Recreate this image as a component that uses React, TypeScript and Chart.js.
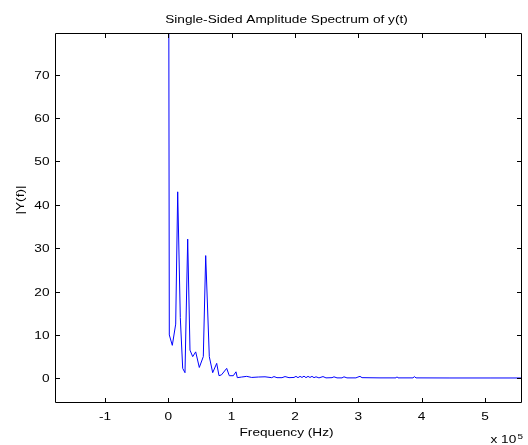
import React, { useEffect, useRef } from "react";
import { Chart, registerables } from "chart.js";

Chart.register(...registerables);

// Frequency (Hz) and single-sided amplitude |Y(f)|
const freqHz = [
  0, 1580, 6320, 11690, 14840, 18950, 22740, 26370, 30630, 34260, 38530, 43270,
  48950, 55270, 59060, 64740, 70110, 76420, 80060, 84000, 92210, 96320, 102640,
  106900, 108950, 115900, 123800, 131700, 142100, 152700, 163300, 166900, 171600,
  179500, 184300, 190600, 198500, 201600, 204800, 208000, 211100, 214300, 217400,
  220600, 223700, 226900, 230100, 233200, 237900, 244300, 249000, 258500, 261600,
  266400, 274300, 277400, 282100, 296300, 299500, 302700, 305900, 334300, 359500,
  361100, 362700, 386400, 388500, 391100, 444800, 508000, 558500,
];
const amplitude = [
  160, 10, 7.6, 12.5, 43.0, 14, 2.3, 1.3, 32.1, 6.5, 5.0, 6.1,
  2.5, 5.0, 28.3, 5.0, 1.3, 3.45, 0.6, 0.8, 2.3, 0.6, 0.6,
  1.5, 0.15, 0.3, 0.45, 0.2, 0.3, 0.35, 0.15, 0.4, 0.15,
  0.15, 0.4, 0.15, 0.2, 0.45, 0.15, 0.45, 0.2, 0.5, 0.15,
  0.45, 0.2, 0.45, 0.15, 0.35, 0.1, 0.4, 0.1, 0.15, 0.35,
  0.1, 0.1, 0.35, 0.1, 0.1, 0.3, 0.45, 0.15, 0.1, 0.1,
  0.35, 0.1, 0.1, 0.4, 0.1, 0.08, 0.08, 0.08,
];

const xTickValues = [-1e5, 0, 1e5, 2e5, 3e5, 4e5, 5e5];
const xTickLabels = ["-1", "0", "1", "2", "3", "4", "5"];
const yTickValues = [0, 10, 20, 30, 40, 50, 60, 70];
const yTickLabels = ["0", "10", "20", "30", "40", "50", "60", "70"];

const titleText = "Single-Sided Amplitude Spectrum of y(t)";
const xAxisLabel = "Frequency (Hz)";
const yAxisLabel = "|Y(f)|";
const xExponentBase = "x 10";
const xExponent = "5";

const xMin = -1.789e5;
const xMax = 5.585e5;
const yMin = -5.46;
const yMax = 79.62;

const FONT = '"Liberation Sans", Arial, Helvetica, sans-serif';
const STRETCH = 1.24;

function drawText(
  ctx: CanvasRenderingContext2D,
  s: string,
  x: number,
  y: number,
  align: CanvasTextAlign,
  size: number,
  rotate = 0,
  baseline: CanvasTextBaseline = "alphabetic"
) {
  ctx.save();
  ctx.translate(x, y);
  if (rotate) ctx.rotate(rotate);
  ctx.scale(STRETCH, 1);
  ctx.font = `${size}px ${FONT}`;
  ctx.textAlign = align;
  ctx.textBaseline = baseline;
  ctx.fillStyle = "#000";
  ctx.fillText(s, 0, 0);
  ctx.restore();
}

const matlabFrame = {
  id: "matlabFrame",
  afterDraw(chart: any) {
    const { ctx, chartArea: a, scales } = chart;
    const xs = scales.x;
    const ys = scales.y;
    const L = Math.round(a.left) + 0.5;
    const R = Math.round(a.right) - 0.5;
    const T = Math.round(a.top) + 0.5;
    const B = Math.round(a.bottom) + 0.5;
    const tl = 4.5;
    ctx.save();
    ctx.strokeStyle = "#000";
    ctx.lineWidth = 1;
    ctx.beginPath();
    ctx.rect(L, T, R - L, B - T);
    xTickValues.forEach((v) => {
      const px = Math.round(xs.getPixelForValue(v)) + 0.5;
      ctx.moveTo(px, B);
      ctx.lineTo(px, B - tl);
      ctx.moveTo(px, T);
      ctx.lineTo(px, T + tl);
    });
    yTickValues.forEach((v) => {
      const py = Math.round(ys.getPixelForValue(v)) + 0.5;
      ctx.moveTo(L, py);
      ctx.lineTo(L + tl, py);
      ctx.moveTo(R, py);
      ctx.lineTo(R - tl, py);
    });
    ctx.stroke();
    ctx.restore();

    xTickValues.forEach((v, i) => {
      const px = xs.getPixelForValue(v);
      drawText(ctx, xTickLabels[i], px, B + 17, "center", 11);
    });
    yTickValues.forEach((v, i) => {
      const py = ys.getPixelForValue(v);
      drawText(ctx, yTickLabels[i], L - 6, py + 4, "right", 11);
    });
    const cx = (a.left + a.right) / 2 - 2;
    drawText(ctx, titleText, cx, 22.5, "center", 11);
    drawText(ctx, xAxisLabel, cx, 435.5, "center", 11);
    drawText(ctx, yAxisLabel, 21, 200, "center", 11, -Math.PI / 2, "middle");
    drawText(ctx, xExponentBase, 490.5, 443, "left", 11);
    drawText(ctx, xExponent, 517.5, 439, "left", 8);
  },
};

export default function App() {
  const ref = useRef<HTMLCanvasElement | null>(null);
  useEffect(() => {
    if (!ref.current) return;
    const points = freqHz.map((f, i) => ({ x: f, y: amplitude[i] }));
    const chart = new Chart(ref.current, {
      type: "scatter",
      data: {
        datasets: [
          {
            data: points,
            showLine: true,
            borderColor: "#0000ff",
            backgroundColor: "#0000ff",
            borderWidth: 1,
            pointRadius: 0,
            tension: 0,
          },
        ],
      },
      options: {
        responsive: false,
        animation: false,
        devicePixelRatio: 1,
        layout: { padding: { left: 55, top: 33, right: 6, bottom: 43 } },
        plugins: {
          legend: { display: false },
          tooltip: { enabled: false },
          title: { display: false },
        },
        scales: {
          x: { type: "linear", display: false, min: xMin, max: xMax },
          y: { type: "linear", display: false, min: yMin, max: yMax },
        },
      },
      plugins: [matlabFrame],
    });
    return () => chart.destroy();
  }, []);
  return (
    <div style={{ position: "absolute", left: 0, top: 0, width: 528, height: 445, background: "#fff" }}>
      <canvas ref={ref} width={528} height={445} style={{ display: "block" }} />
    </div>
  );
}
